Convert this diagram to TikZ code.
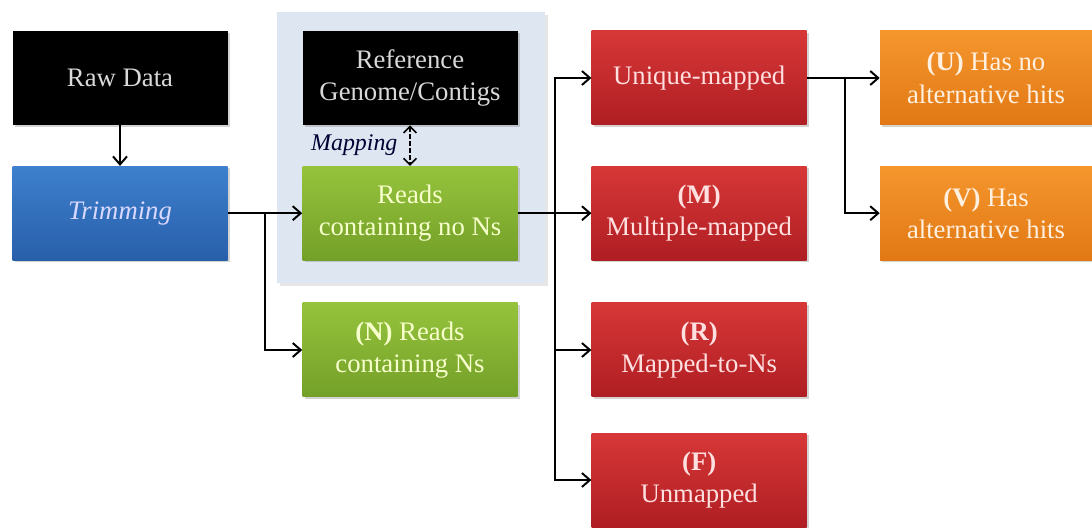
\documentclass[tikz,border=0pt]{standalone}
\usepackage{fontspec}
\setmainfont{Liberation Serif}
\usetikzlibrary{shadows,arrows.meta}

\definecolor{rawblack}{RGB}{0,0,0}
\definecolor{trimblue}{RGB}{62,128,205}
\definecolor{trimbluedark}{RGB}{40,95,170}
\definecolor{readgreen}{RGB}{150,195,60}
\definecolor{readgreendark}{RGB}{115,160,40}
\definecolor{mapred}{RGB}{215,55,55}
\definecolor{mapreddark}{RGB}{175,30,35}
\definecolor{hitorange}{RGB}{245,150,45}
\definecolor{hitorangedark}{RGB}{225,120,20}
\definecolor{panelblue}{RGB}{222,230,242}

\begin{document}
\begin{tikzpicture}[
  box/.style={rectangle, minimum width=5.375cm, minimum height=2.35cm,
    align=center, inner sep=2pt, drop shadow={opacity=0.35, shadow xshift=0.05cm, shadow yshift=-0.05cm},
    font=\fontsize{19}{23}\selectfont},
  blackbox/.style={box, fill=rawblack, text=white!85!black},
  bluebox/.style={box, top color=trimblue, bottom color=trimbluedark, text=blue!15!white},
  greenbox/.style={box, top color=readgreen, bottom color=readgreendark, text=green!15!yellow!20!white},
  redbox/.style={box, top color=mapred, bottom color=mapreddark, text=red!12!white},
  orangebox/.style={box, minimum width=5.3cm, top color=hitorange, bottom color=hitorangedark, text=orange!12!white},
  arrow/.style={-{Straight Barb[length=2mm,width=3.5mm]}, line width=1.4pt},
  line/.style={line width=1.4pt}
]
\useasboundingbox (0,0) rectangle (27.3,-13.2);

% Mapping panel
\fill[panelblue, drop shadow={opacity=0.2}] (6.925,-0.3) rectangle (13.625,-7.075);

% Input column
\node[blackbox] (Raw) at (3.0,-1.95) {Raw Data};
\node[bluebox] (Trim) at (3.0,-5.33) {\textit{Trimming}};

% Reads column
\node[blackbox] (Ref) at (10.25,-1.95) {Reference\\Genome/Contigs};
\node[greenbox] (Reads) at (10.25,-5.33) {Reads\\containing no Ns};
\node[greenbox] (NReads) at (10.25,-8.75) {\textbf{(N)} Reads\\containing Ns};

% Mapping results
\node[redbox] (R1) at (17.48,-1.95) {Unique-mapped};
\node[redbox] (R2) at (17.48,-5.33) {\textbf{(M)}\\Multiple-mapped};
\node[redbox] (R3) at (17.48,-8.75) {\textbf{(R)}\\Mapped-to-Ns};
\node[redbox] (R4) at (17.48,-12.0) {\textbf{(F)}\\Unmapped};

% Alternative hits
\node[orangebox] (U) at (24.65,-1.95) {\textbf{(U)} Has no\\alternative hits};
\node[orangebox] (V) at (24.65,-5.33) {\textbf{(V)} Has\\alternative hits};

% Split points
\coordinate (S1) at (6.625,-5.33);
\coordinate (S2) at (13.875,-5.33);
\coordinate (S3) at (21.125,-1.95);

% Arrows
\draw[arrow] (Raw) -- (Trim);
\draw[line] (Trim) -- (S1);
\draw[arrow] (S1) -- (Reads);
\draw[arrow] (S1) |- (NReads);

\draw[{Straight Barb[length=1.6mm,width=3.2mm]}-{Straight Barb[length=1.6mm,width=3.2mm]}, line width=1.2pt, densely dashed]
  (Ref) -- (Reads) node[midway, left=5pt, font=\fontsize{17}{19}\selectfont\itshape, text=black!80!blue] (Map) {Mapping};

\draw[line] (Reads) -- (S2);
\foreach \i in {1,...,4}
  \draw[arrow] (S2) |- (R\i);

\draw[line] (R1) -- (S3);
\draw[arrow] (S3) -- (U);
\draw[arrow] (S3) |- (V);

\end{tikzpicture}
\end{document}
